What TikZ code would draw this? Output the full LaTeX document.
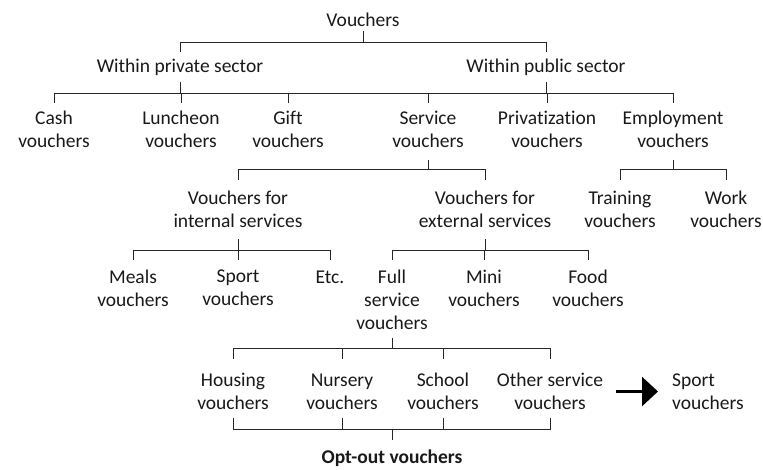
\documentclass[tikz,border=0pt]{standalone}
\usepackage{fontspec}
\setmainfont[Ligatures=NoCommon]{Carlito}
\usetikzlibrary{arrows.meta}
\begin{document}
\begin{tikzpicture}[x=1pt,y=-1pt,
  lbl/.style={inner sep=0pt,align=center,text=black!90,font=\fontsize{19.5pt}{23pt}\selectfont},
  optlbl/.style={lbl,font=\fontsize{19.5pt}{23pt}\selectfont\bfseries},
  tree/.style={line width=1pt,draw=black!85},
  bigarrow/.style={line width=2.6pt,-{Triangle[width=29pt,length=16pt]}}]
\useasboundingbox (0,0) rectangle (763,469);
% level coordinates
\coordinate (a0) at (0,31);  \coordinate (b0) at (0,42);  \coordinate (c0) at (0,52);
\coordinate (a1) at (0,82);  \coordinate (b1) at (0,93);  \coordinate (c1) at (0,103);
\coordinate (a2) at (0,160); \coordinate (b2) at (0,169); \coordinate (c2) at (0,180);
\coordinate (a3) at (0,239); \coordinate (b3) at (0,250); \coordinate (c3) at (0,260);
\coordinate (a4) at (0,338); \coordinate (b4) at (0,348); \coordinate (c4) at (0,359);
\coordinate (a5) at (0,418); \coordinate (b5) at (0,429); \coordinate (c5) at (0,440);
% nodes
\node[lbl] (root) at (363,20) {Vouchers};
\node[lbl] (priv) at (180,67) {Within private sector};
\node[lbl] (pub) at (546,67) {Within public sector};
\node[lbl] (cash) at (54,129) {Cash\\vouchers};
\node[lbl] (lunch) at (181,129) {Luncheon\\vouchers};
\node[lbl] (gift) at (288,129) {Gift\\vouchers};
\node[lbl] (serv) at (428,129) {Service\\vouchers};
\node[lbl] (privz) at (547,129) {Privatization\\vouchers};
\node[lbl] (empl) at (673,129) {Employment\\vouchers};
\node[lbl] (internal) at (238,209) {Vouchers for\\internal services};
\node[lbl] (external) at (485,209) {Vouchers for\\external services};
\node[lbl] (training) at (620,209) {Training\\vouchers};
\node[lbl] (work) at (726,209) {Work\\vouchers};
\node[lbl] (meals) at (133,288) {Meals\\vouchers};
\node[lbl] (sport) at (238,288) {Sport\\vouchers};
\node[lbl] (etc) at (330,277) {Etc.};
\node[lbl] (full) at (392,299.5) {Full\\service\\vouchers};
\node[lbl] (mini) at (484,288) {Mini\\vouchers};
\node[lbl] (food) at (588,288) {Food\\vouchers};
\node[lbl] (housing) at (233,391.5) {Housing\\vouchers};
\node[lbl] (nursery) at (342,391.5) {Nursery\\vouchers};
\node[lbl] (school) at (443,391.5) {School\\vouchers};
\node[lbl] (other) at (550,391.5) {Other service\\vouchers};
\node[lbl,align=left,anchor=west] (sportb) at (672,391.5) {Sport\\vouchers};
\node[optlbl] (optout) at (392,458) {Opt-out vouchers};
% level 0
\draw[tree] (root |- a0) -- (root |- b0);
\draw[tree] (priv |- c0) -- (priv |- b0) -- (pub |- b0) -- (pub |- c0);
% level 1
\draw[tree] (priv |- a1) -- (priv |- b1);
\draw[tree] (pub |- a1) -- (pub |- b1);
\draw[tree] (cash |- c1) -- (cash |- b1) -- (empl |- b1) -- (empl |- c1);
\foreach \n in {lunch,gift,serv,privz} \draw[tree] (\n |- b1) -- (\n |- c1);
% level 2
\draw[tree] (serv |- a2) -- (serv |- b2);
\draw[tree] (internal |- c2) -- (internal |- b2) -- (external |- b2) -- (external |- c2);
\draw[tree] (empl |- a2) -- (empl |- b2);
\draw[tree] (training |- c2) -- (training |- b2) -- (work |- b2) -- (work |- c2);
% level 3
\draw[tree] (internal |- a3) -- (internal |- b3);
\draw[tree] (meals |- c3) -- (meals |- b3) -- (etc |- b3) -- (etc |- c3);
\draw[tree] (sport |- b3) -- (sport |- c3);
\draw[tree] (external |- a3) -- (external |- b3);
\draw[tree] (full |- c3) -- (full |- b3) -- (food |- b3) -- (food |- c3);
\draw[tree] (mini |- b3) -- (mini |- c3);
% level 4
\draw[tree] (full |- a4) -- (full |- b4);
\draw[tree] (housing |- c4) -- (housing |- b4) -- (other |- b4) -- (other |- c4);
\draw[tree] (nursery |- b4) -- (nursery |- c4);
\draw[tree] (school |- b4) -- (school |- c4);
% level 5 (bottom bracket)
\draw[tree] (housing |- a5) -- (housing |- b5) -- (other |- b5) -- (other |- a5);
\draw[tree] (nursery |- a5) -- (nursery |- b5);
\draw[tree] (school |- a5) -- (school |- b5);
\draw[tree] (optout |- b5) -- (optout |- c5);
% arrow
\draw[bigarrow,shorten <=13pt,shorten >=14pt] (other.east |- sportb) -- (sportb.west);
\end{tikzpicture}
\end{document}
